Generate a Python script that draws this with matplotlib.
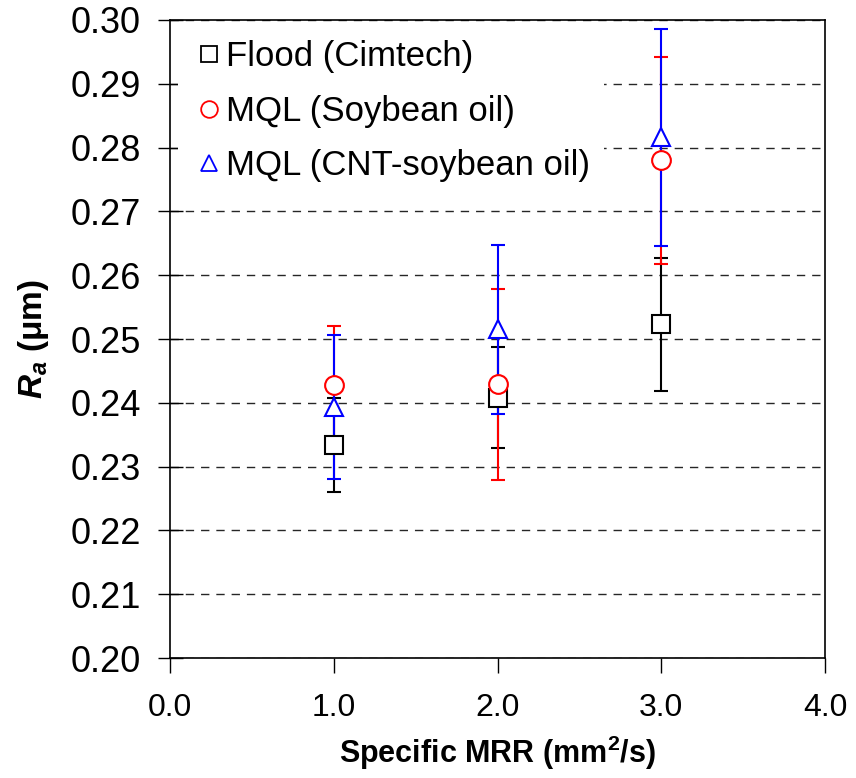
# Surface roughness vs specific MRR for three cooling conditions
import matplotlib.pyplot as plt
import numpy as np

plt.rcParams['font.family'] = ['Liberation Sans', 'DejaVu Sans']
plt.rcParams['mathtext.fontset'] = 'custom'
plt.rcParams['mathtext.it'] = 'Liberation Sans:bold:italic'
plt.rcParams['mathtext.rm'] = 'Liberation Sans:bold'

# data
mrr = [1.0, 2.0, 3.0]
flood = [0.2334, 0.2408, 0.2523]
flood_err = [0.0073, 0.0079, 0.0104]
mql_soy = [0.2428, 0.2429, 0.2780]
mql_soy_err = [0.0093, 0.0150, 0.0162]
mql_cnt = [0.2393, 0.2515, 0.2816]
mql_cnt_err = [0.0113, 0.0133, 0.0170]

labels = ['Flood (Cimtech)', 'MQL (Soybean oil)', 'MQL (CNT-soybean oil)']
colors = ['black', 'red', 'blue']
markers = ['s', 'o', '^']

fig = plt.figure(figsize=(8.56, 7.78), dpi=100)
ax = fig.add_axes([0.1986, 0.1542, 0.9638 - 0.1986, 0.9743 - 0.1542])

series = [(flood, flood_err), (mql_soy, mql_soy_err), (mql_cnt, mql_cnt_err)]

# error bars first, markers on top
for (vals, err), c in zip(series, colors):
    ax.errorbar(mrr, vals, yerr=err, fmt='none', ecolor=c, elinewidth=1.5,
                capsize=5, capthick=1.5, zorder=3)

for i, ((vals, err), c, m, lab) in enumerate(zip(series, colors, markers, labels)):
    ms = 13 if m == 's' else 13.5
    ax.plot(mrr, vals, linestyle='none', marker=m, markersize=ms,
            markerfacecolor='white', markeredgecolor=c, markeredgewidth=1.5,
            label=lab, zorder=4 + i)

ax.set_xlim(0, 4)
ax.set_ylim(0.20, 0.30)
ax.set_xticks(np.arange(0, 4.01, 1.0))
ax.set_yticks(np.arange(0.20, 0.3001, 0.01))
ax.xaxis.set_major_formatter(plt.FormatStrFormatter('%.1f'))
ax.yaxis.set_major_formatter(plt.FormatStrFormatter('%.2f'))
ax.tick_params(axis='x', direction='out', length=11, width=1, labelsize=23, pad=14)
ax.tick_params(axis='y', direction='inout', length=18, width=1, labelsize=26, pad=12)

ax.yaxis.grid(True, color='black', linestyle=(0, (6, 5)), linewidth=1, alpha=0.85)
ax.set_axisbelow(True)
for s in ax.spines.values():
    s.set_linewidth(1.2)

ax.set_xlabel('Specific MRR (mm$^\\mathregular{2}$/s)', fontsize=22, fontweight='bold', labelpad=8)
ax.set_ylabel('$\\mathit{R_a}$ (μm)', fontsize=24, fontweight='bold', labelpad=14)

leg = ax.legend(loc='upper left', frameon=True, fontsize=25, handletextpad=0.0,
                handlelength=1.0, borderaxespad=0.0, labelspacing=0.62,
                borderpad=0.4, bbox_to_anchor=(0.012, 0.99), fancybox=False)
leg.get_frame().set_edgecolor('none')
leg.get_frame().set_facecolor('white')
leg.get_frame().set_alpha(1)
for h in leg.legend_handles:
    h.set_markersize(12)
    h.set_markeredgewidth(1.3)

fig.savefig('out.png', dpi=100)
